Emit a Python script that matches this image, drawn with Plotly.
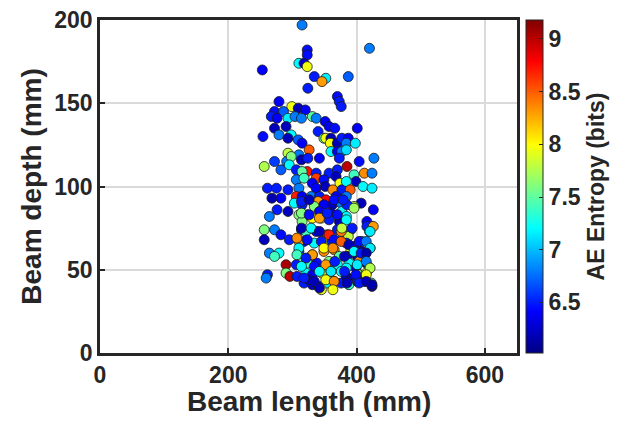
import plotly.graph_objects as go

beam_length = [
    315, 323, 323, 310, 318, 323, 253, 334, 352, 346, 420, 387,
    324, 370, 373, 376, 279, 299, 309, 320, 272, 286, 267, 276, 293, 304, 314, 331, 337,
    290, 272, 351, 357, 366, 340, 279, 254, 298, 293, 309, 315, 349, 352, 360, 359, 370,
    377, 326, 293, 310, 360, 370, 377,
    401, 387, 384, 398, 384,
    256, 272, 291, 298, 314, 324, 342, 282, 295, 306, 323, 315, 337, 357, 370, 373,
    306, 318, 337, 349, 368, 374, 331, 261, 275, 293, 310, 337, 351, 363, 377,
    268, 282, 306, 315, 329, 342, 352, 368, 303, 315, 340, 334, 349, 362, 376,
    276, 293, 264, 310, 323, 342, 360, 371, 331, 345, 315, 357, 373, 377,
    404, 427, 385, 396, 412, 424, 399, 384, 390, 410, 424, 384, 407, 396, 426, 385, 384, 416,
    256, 272, 282, 256, 295, 314, 321, 337, 354, 370, 318, 334, 349, 362, 376, 310,
    264, 279, 272, 310, 331, 315, 349, 365, 373, 290, 306, 323, 338, 357, 370,
    261, 259, 290, 296, 307, 321, 331, 346, 360, 376, 318, 331, 342, 354, 365, 376, 345, 326,
    391, 424, 416, 420, 387, 408, 384, 396, 421, 391, 408, 385, 401, 388, 404, 415, 399,
    420, 384, 404, 415, 384, 393, 407, 388, 401, 412, 424, 423,
    314, 326, 365, 379, 314, 326, 342, 354, 370, 384, 396, 314, 329, 342, 357, 376, 377,
    393, 307, 323, 345, 365, 376, 388, 404, 310, 331, 349, 363, 396, 407, 307, 321, 352,
    366, 381, 401, 314, 334, 342, 360, 381, 399, 318, 334, 352, 365, 385, 404, 342, 363,
    426, 421, 415, 421, 415, 415, 421, 415, 415, 424,
]

beam_depth = [
    197, 182, 179, 174, 174, 172, 170, 166, 165, 163, 183, 166,
    159, 154, 151, 148, 151, 148, 147, 146, 145, 145, 142, 141, 141, 142, 141, 142, 141,
    136, 135, 139, 136, 135, 133, 131, 130, 131, 129, 128, 126, 129, 129, 129, 126, 126,
    129, 122, 120, 119, 121, 121, 121,
    135, 129, 126, 126, 122,
    112, 115, 115, 118, 116, 117, 117, 110, 113, 110, 109, 109, 108, 108, 110, 117,
    104, 105, 105, 104, 106, 102, 102, 99, 99, 98, 99, 99, 100, 98, 98,
    93, 93, 94, 94, 94, 94, 92, 94, 90, 89, 91, 88, 89, 89, 90,
    86, 85, 82, 83, 83, 85, 84, 83, 81, 81, 79, 80, 79, 85,
    115, 117, 112, 107, 108, 108, 103, 103, 98, 100, 99, 94, 90, 88, 86, 89, 82, 79,
    74, 74, 71, 68, 68, 74, 73, 73, 71, 74, 67, 66, 67, 67, 68, 67,
    60, 60, 58, 61, 59, 57, 61, 62, 58, 53, 53, 54, 54, 55, 53,
    47, 45, 48, 46, 46, 48, 47, 48, 49, 49, 42, 41, 40, 42, 43, 42, 38, 44,
    74, 76, 76, 73, 70, 67, 66, 64, 63, 62, 61, 58, 58, 54, 55, 54, 51,
    51, 51, 47, 48, 46, 44, 44, 41, 43, 43, 40, 42,
    91, 92, 92, 92, 84, 83, 81, 84, 83, 80, 87, 75, 75, 73, 71, 73, 75,
    75, 69, 68, 67, 68, 67, 65, 67, 63, 59, 63, 63, 61, 60, 59, 57, 53,
    55, 58, 53, 52, 52, 49, 49, 49, 47, 45, 43, 44, 43, 42, 42, 39, 38,
    76, 73, 67, 63, 60, 55, 51, 47, 43, 41,
]

ae_entropy = [
    6.8, 6.45, 6.45, 7.2, 6.2, 7.95, 6.4, 6.5, 7.15, 8.3, 6.8, 6.7,
    6.5, 6.45, 6.5, 6.5, 6.4, 7.95, 6.2, 6.4, 6.45, 6.7, 6.5, 6.4, 7.15, 6.8, 6.8, 7.5, 6.8,
    6.2, 6.2, 6.4, 6.4, 6.45, 6.5, 6.8, 6.45, 7.2, 6.2, 6.7, 6.4, 7.5, 7.95, 6.2, 7.95, 6.2,
    6.5, 8.5, 7.8, 6.8, 7.2, 6.4, 6.8,
    6.4, 6.4, 6.8, 7.15, 7.1,
    7.75, 6.6, 6.8, 7.6, 6.2, 6.5, 6.4, 6.7, 7.2, 6.5, 8.75, 7.5, 6.5, 6.5, 6.5, 6.5,
    6.8, 7.4, 8.6, 6.45, 6.2, 7.95, 6.4, 6.5, 6.5, 6.5, 6.8, 6.4, 6.2, 8.35, 6.5,
    6.15, 6.4, 8.7, 6.4, 6.8, 6.5, 8.8, 6.4, 7.2, 6.5, 8.3, 7.6, 6.4, 6.2, 6.8,
    6.5, 6.2, 6.8, 7.6, 6.2, 6.4, 6.2, 6.5, 8.0, 7.95, 7.6, 6.5, 6.2, 7.2,
    6.45, 6.8, 9.0, 7.4, 8.35, 6.8, 6.2, 7.2, 8.5, 7.2, 7.15, 6.8, 6.2, 7.75, 6.4, 6.5, 7.2, 6.4,
    7.6, 6.8, 6.45, 6.2, 6.5, 6.5, 7.4, 6.4, 8.7, 6.5, 6.4, 7.2, 7.95, 6.5, 6.8, 8.35,
    6.8, 7.2, 7.4, 6.5, 8.3, 7.6, 8.35, 8.3, 7.45, 9.05, 6.5, 7.4, 6.45, 7.6, 7.2,
    6.5, 6.8, 7.6, 9.0, 6.5, 7.2, 6.4, 7.95, 8.35, 7.2, 6.5, 6.2, 6.4, 7.15, 8.3, 6.5, 7.95, 6.2,
    6.8, 8.3, 6.5, 7.2, 7.8, 6.8, 6.5, 6.4, 7.15, 7.9, 6.2, 6.2, 6.2, 7.2, 8.35, 6.4, 6.2,
    7.8, 7.2, 7.6, 7.95, 6.2, 6.2, 6.4, 7.4, 6.5, 6.2, 6.15, 7.4,
    6.5, 6.2, 6.45, 6.5, 7.6, 6.45, 8.3, 6.5, 6.45, 7.2, 7.7, 6.2, 7.2, 6.2, 8.7, 8.4, 7.8,
    6.5, 8.35, 6.45, 6.5, 6.45, 8.5, 6.2, 6.45, 7.2, 8.3, 8.0, 8.35, 7.2, 6.5, 7.4, 6.5, 8.3,
    6.5, 6.2, 7.15, 7.2, 6.45, 7.2, 7.15, 6.5, 6.45, 6.5, 6.2, 7.95, 8.35, 6.2, 6.5, 6.2, 7.95,
    8.3, 7.15, 6.8, 7.15, 6.15, 6.8, 7.75, 7.95, 6.2, 6.15,
]

x_ticks = [0, 200, 400, 600]
y_ticks = [0, 50, 100, 150, 200]
cbar_ticks = [6.5, 7, 7.5, 8, 8.5, 9]

jet = [[0.0, "#000083"], [0.125, "#0000ff"], [0.375, "#00ffff"],
       [0.625, "#ffff00"], [0.875, "#ff0000"], [1.0, "#800000"]]

txt = "#262626"
font_family = "Liberation Sans, Arial, sans-serif"
tick_font = dict(family=font_family, size=23, color=txt, weight="bold")
title_font = dict(family=font_family, size=28, color=txt, weight="bold")

fig = go.Figure(go.Scatter(
    x=beam_length, y=beam_depth, mode="markers",
    marker=dict(
        size=10, color=ae_entropy, colorscale=jet, cmin=6.02, cmax=9.18,
        line=dict(color="#1a1a1a", width=0.8),
        colorbar=dict(
            x=1.0216, xanchor="left", xref="paper", y=0.5, yanchor="middle", len=1.0,
            xpad=0, ypad=0,
            thickness=17, outlinecolor=txt, outlinewidth=1,
            tickvals=cbar_ticks, ticktext=[str(v) for v in cbar_ticks],
            ticks="inside", ticklen=4, tickcolor=txt,
            tickfont=tick_font,
            title=dict(text="AE Entropy (bits)", side="right",
                       font=dict(family=font_family, size=23, color=txt, weight="bold")),
        ),
    ),
    showlegend=False,
))

axis_common = dict(
    showgrid=True, gridcolor="#dadada", gridwidth=2,
    showline=True, linecolor=txt, linewidth=2.5, mirror=True,
    ticks="inside", ticklen=5, tickcolor=txt, tickwidth=1.5,
    zeroline=False, automargin=False,
    tickfont=tick_font,
)

fig.update_layout(
    width=622, height=440,
    margin=dict(l=100, r=105, t=20, b=87, autoexpand=False),
    paper_bgcolor="white", plot_bgcolor="white",
    font=dict(family=font_family, color=txt),
    xaxis=dict(range=[0, 650], tickvals=x_ticks, **axis_common),
    yaxis=dict(range=[0, 200], tickvals=y_ticks, **axis_common),
    annotations=[
        dict(text="Beam length (mm)", xref="paper", yref="paper", x=0.5, y=-0.147,
             xanchor="center", yanchor="middle", showarrow=False, borderpad=0,
             font=title_font),
        dict(text="Beam depth (mm)", xref="paper", yref="paper", x=-0.165, y=0.5,
             xanchor="center", yanchor="middle", textangle=-90, showarrow=False,
             borderpad=0, font=title_font),
    ],
)

fig.write_html("out.html", config={"displayModeBar": False},
               post_script="document.body.style.margin='0';")
